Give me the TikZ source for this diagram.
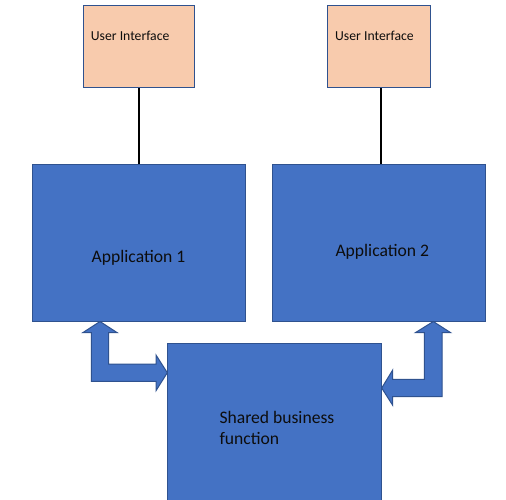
\documentclass[tikz,border=0pt]{standalone}
\usepackage{fontspec}
\setmainfont{Carlito}
\definecolor{boxblue}{HTML}{4472C4}
\definecolor{edgeblue}{HTML}{2F528F}
\definecolor{uipeach}{HTML}{F8CBAD}
\definecolor{txt}{HTML}{0D0D0D}
\begin{document}
\begin{tikzpicture}[x=1pt,y=-1pt,
  bluebox/.style={draw=edgeblue,fill=boxblue,line width=1pt,inner sep=0pt},
  uibox/.style={draw=edgeblue,fill=uipeach,line width=1pt,inner sep=0pt},
  uitext/.style={inner sep=0pt,anchor=base west,text=txt,font=\fontsize{13.7}{16}\selectfont},
  bigtext/.style={inner sep=0pt,text=txt,font=\fontsize{17.6}{21}\selectfont},
  link/.style={draw=black,line width=2pt},
  blockarrow/.style={draw=edgeblue,fill=boxblue,line width=1pt,line join=miter}]
\useasboundingbox (0,0) rectangle (506,499);
% boxes
\node[uibox,minimum width=111pt,minimum height=82.5pt] (ui1) at (138.5,46.25) {};
\node[uibox,minimum width=103pt,minimum height=82.5pt] (ui2) at (378.8,46.25) {};
\node[bluebox,minimum width=213.3pt,minimum height=157pt] (app1) at (138.65,242.8) {};
\node[bluebox,minimum width=213.4pt,minimum height=157pt] (app2) at (379,242.8) {};
\node[bluebox,minimum width=214.7pt,minimum height=160pt] (shared) at (274.35,423.3) {};
% texts
\node[uitext] (uit1) at (90.7,40.7) {User Interface};
\node[uitext] (uit2) at (335,40.7) {User Interface};
\node[bigtext,anchor=base] (a1t) at (138.5,262.7) {Application 1};
\node[bigtext,anchor=base] (a2t) at (382.3,256.7) {Application 2};
\node[bigtext,anchor=base west] (sh1) at (219.3,423.3) {Shared business};
\node[bigtext,anchor=base west] (sh2) at (219.3,444.3) {function};
% connectors
\draw[link] (ui1.south) -- (ui1.south |- app1.north);
\draw[link] ([xshift=2pt]ui2.south) -- ([xshift=2pt]ui2.south |- app2.north);
% block arrows
\draw[blockarrow] (100,321.5) -- (117.3,332.7) -- (108.7,332.7) -- (108.7,364) -- (156,364) -- (156,355) -- (167.3,372.7) -- (156,390.7) -- (156,381.3) -- (91.3,381.3) -- (91.3,332.7) -- (82.7,332.7) -- cycle;
\draw[blockarrow] (433.3,321.5) -- (450.7,332.7) -- (442,332.7) -- (442,396.7) -- (392.7,396.7) -- (392.7,405.3) -- (381.7,388) -- (392.7,370) -- (392.7,379.3) -- (424.3,379.3) -- (424.3,332.7) -- (415.3,332.7) -- cycle;
\end{tikzpicture}
\end{document}
